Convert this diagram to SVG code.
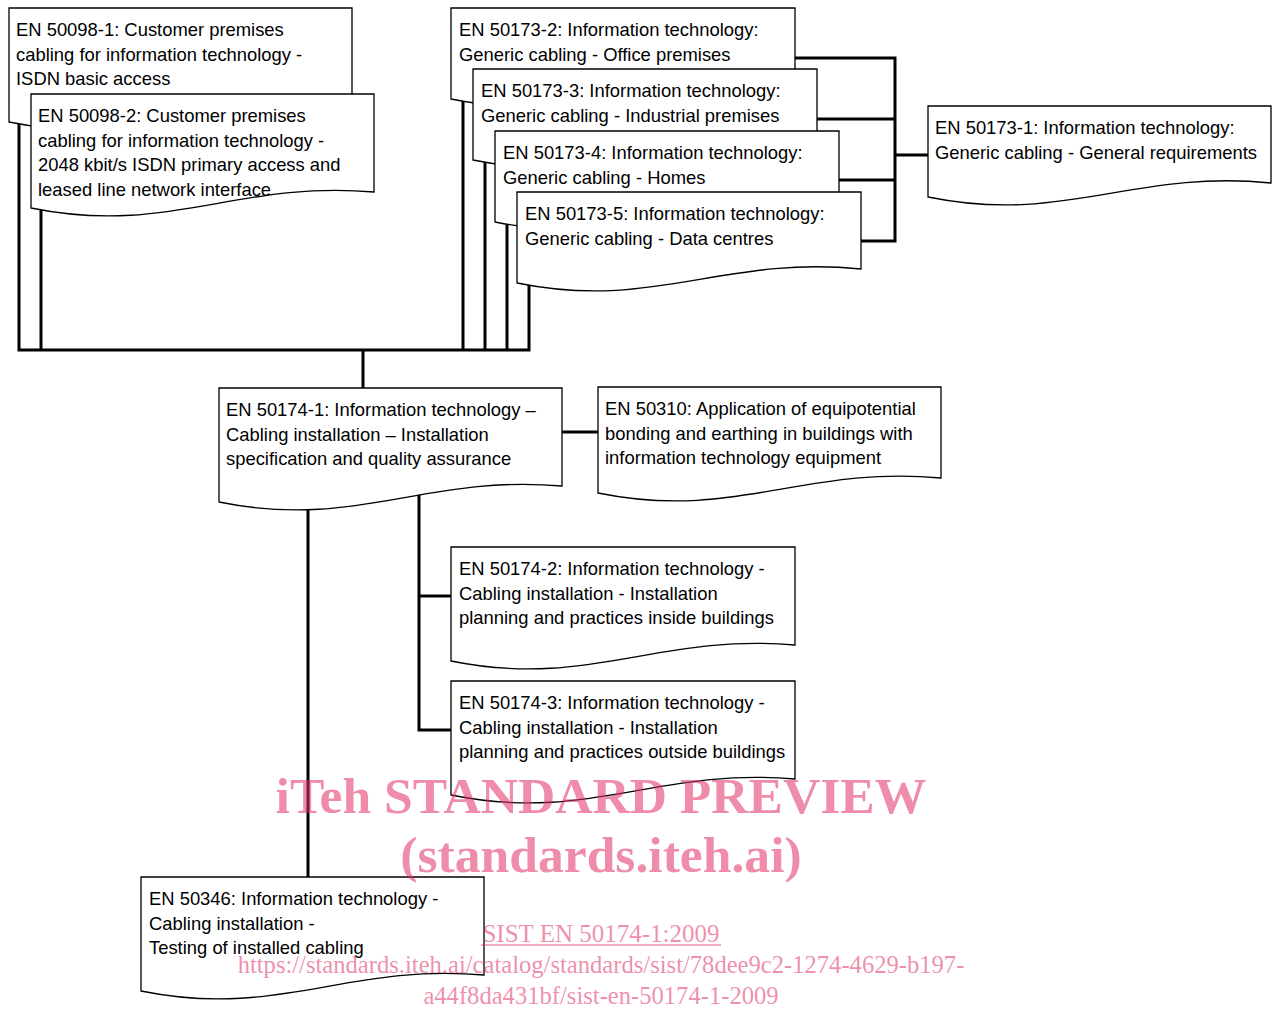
<svg xmlns="http://www.w3.org/2000/svg" width="1275" height="1010" viewBox="0 0 1275 1010">
<style>
.box{fill:#fff;stroke:#000;stroke-width:1.3;stroke-linejoin:miter}
.lbl{font-family:"Liberation Sans",Arial,sans-serif;font-size:18.4px;fill:#000}
.conn{fill:none;stroke:#000;stroke-width:3;stroke-linejoin:miter;stroke-linecap:butt}
.wm{font-family:"Liberation Serif","Times New Roman",serif;fill:#e02e64;fill-opacity:0.55;text-anchor:middle}
.wmb{font-weight:bold;font-size:51.6px}
</style>
<rect width="1275" height="1010" fill="#fff"/>
<g id="connectors">
<path class="conn" d="M19,110 V350 H529 V260"/>
<path class="conn" d="M41,190 V350"/>
<path class="conn" d="M463,90 V350"/>
<path class="conn" d="M485,150 V350"/>
<path class="conn" d="M507,210 V350"/>
<path class="conn" d="M363,350 V388"/>
<path class="conn" d="M780,58 H895 V241 H850"/>
<path class="conn" d="M800,119 H895"/>
<path class="conn" d="M820,180 H895"/>
<path class="conn" d="M895,155 H928"/>
<path class="conn" d="M562,432 H598"/>
<path class="conn" d="M308,490 V877"/>
<path class="conn" d="M419,480 V730 H451"/>
<path class="conn" d="M419,596 H451"/>
</g>
<g id="n-50098-1">
<path class="box" d="M9,8 H352 V106 C214,94 146,150 9,122 Z"/>
<text class="lbl" x="16" y="36">EN 50098-1: Customer premises</text>
<text class="lbl" x="16" y="60.5">cabling for information technology -</text>
<text class="lbl" x="16" y="85">ISDN basic access</text>
</g>
<g id="n-50098-2">
<path class="box" d="M31,94 H374 V192 C236.8,180 168.2,236 31,208 Z"/>
<text class="lbl" x="38" y="122">EN 50098-2: Customer premises</text>
<text class="lbl" x="38" y="146.5">cabling for information technology -</text>
<text class="lbl" x="38" y="171">2048 kbit/s ISDN primary access and</text>
<text class="lbl" x="38" y="195.5">leased line network interface</text>
</g>
<g id="n-50173-2">
<path class="box" d="M451,8 H795 V85 C657.4,71 588.6,127 451,99 Z"/>
<text class="lbl" x="459" y="36">EN 50173-2: Information technology:</text>
<text class="lbl" x="459" y="60.5">Generic cabling - Office premises</text>
</g>
<g id="n-50173-3">
<path class="box" d="M473,69 H817 V146 C679.4,132 610.6,188 473,160 Z"/>
<text class="lbl" x="481" y="97">EN 50173-3: Information technology:</text>
<text class="lbl" x="481" y="121.5">Generic cabling - Industrial premises</text>
</g>
<g id="n-50173-4">
<path class="box" d="M495,131 H839 V208 C701.4,194 632.6,250 495,222 Z"/>
<text class="lbl" x="503" y="159">EN 50173-4: Information technology:</text>
<text class="lbl" x="503" y="183.5">Generic cabling - Homes</text>
</g>
<g id="n-50173-5">
<path class="box" d="M517,192 H861 V269 C723.4,255 654.6,311 517,283 Z"/>
<text class="lbl" x="525" y="220">EN 50173-5: Information technology:</text>
<text class="lbl" x="525" y="244.5">Generic cabling - Data centres</text>
</g>
<g id="n-50173-1">
<path class="box" d="M928,106 H1271 V183 C1133.8,169 1065.2,225 928,197 Z"/>
<text class="lbl" x="935" y="134">EN 50173-1: Information technology:</text>
<text class="lbl" x="935" y="158.5">Generic cabling - General requirements</text>
</g>
<g id="n-50174-1">
<path class="box" d="M219,388 H562 V486 C424.8,474 356.2,530 219,502 Z"/>
<text class="lbl" x="226" y="416">EN 50174-1: Information technology –</text>
<text class="lbl" x="226" y="440.5">Cabling installation – Installation</text>
<text class="lbl" x="226" y="465">specification and quality assurance</text>
</g>
<g id="n-50310">
<path class="box" d="M598,387 H941 V478 C803.8,465 735.2,521 598,493 Z"/>
<text class="lbl" x="605" y="415">EN 50310: Application of equipotential</text>
<text class="lbl" x="605" y="439.5">bonding and earthing in buildings with</text>
<text class="lbl" x="605" y="464">information technology equipment</text>
</g>
<g id="n-50174-2">
<path class="box" d="M451,547 H795 V645 C657.4,633 588.6,689 451,661 Z"/>
<text class="lbl" x="459" y="575">EN 50174-2: Information technology -</text>
<text class="lbl" x="459" y="599.5">Cabling installation - Installation</text>
<text class="lbl" x="459" y="624">planning and practices inside buildings</text>
</g>
<g id="n-50174-3">
<path class="box" d="M451,681 H795 V779 C657.4,767 588.6,823 451,795 Z"/>
<text class="lbl" x="459" y="709">EN 50174-3: Information technology -</text>
<text class="lbl" x="459" y="733.5">Cabling installation - Installation</text>
<text class="lbl" x="459" y="758">planning and practices outside buildings</text>
</g>
<g id="n-50346">
<path class="box" d="M141,877 H484 V975 C346.8,963 278.2,1019 141,991 Z"/>
<text class="lbl" x="149" y="905">EN 50346: Information technology -</text>
<text class="lbl" x="149" y="929.5">Cabling installation -</text>
<text class="lbl" x="149" y="954">Testing of installed cabling</text>
</g>
<g id="watermark">
<text class="wm wmb" x="601" y="813">iTeh STANDARD PREVIEW</text>
<text class="wm wmb" x="601" y="872">(standards.iteh.ai)</text>
<text class="wm" x="601" y="942" font-size="25">SIST EN 50174-1:2009</text>
<line x1="481" y1="945" x2="721" y2="945" stroke="#e02e64" stroke-opacity="0.55" stroke-width="1.5"/>
<text class="wm" x="601" y="973" font-size="24.6">https://standards.iteh.ai/catalog/standards/sist/78dee9c2-1274-4629-b197-</text>
<text class="wm" x="601" y="1004" font-size="24.6">a44f8da431bf/sist-en-50174-1-2009</text>
</g>
</svg>
